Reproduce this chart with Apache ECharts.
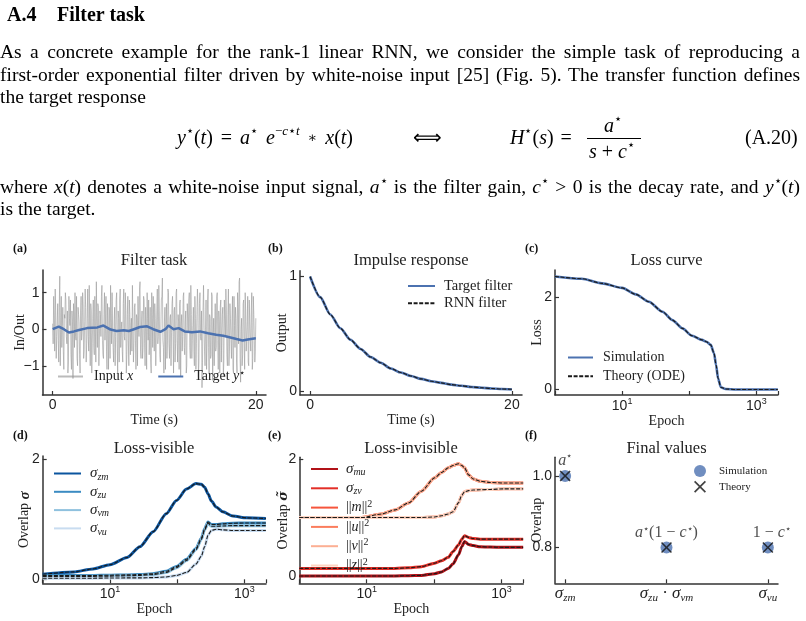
<!DOCTYPE html>
<html>
<head>
<meta charset="utf-8">
<script src="https://cdn.jsdelivr.net/npm/echarts@6/dist/echarts.min.js"></script>
<style>
html, body { margin: 0; padding: 0; background: #fff; }
#page { position: relative; width: 806px; height: 621px; overflow: hidden; font-family: 'Liberation Serif', serif; color: #000; }
#chart { position: absolute; left: 0; top: 0; width: 806px; height: 621px; }
.t { position: absolute; white-space: nowrap; font-size: 20px; line-height: 22px; }
.ln { position: absolute; left: 0; width: 800px; font-size: 19.5px; line-height: 22px; white-space: nowrap; }
.j { text-align: justify; text-align-last: justify; }
sup { font-size: 13px; line-height: 0; position: relative; top: -1px; }
.fr { position: absolute; border-top: 1px solid #000; }
.ast { font-family: 'DejaVu Serif', serif; font-size: 14px; position: relative; top: -2px; }
</style>
</head>
<body>
<div id="page">
	<div id="chart"></div>
	<div class="t" style="left:7px;top:3px;font-weight:bold">A.4</div>
	<div class="t" style="left:57px;top:3px;font-weight:bold">Filter task</div>
	<div class="ln j" style="top:41px">As a concrete example for the rank-1 linear RNN, we consider the simple task of reproducing a</div>
	<div class="ln j" style="top:64px">first-order exponential filter driven by white-noise input [25] (Fig. 5). The transfer function defines</div>
	<div class="ln" style="top:86px">the target response</div>
	<div class="t" style="left:177px;top:126px;word-spacing:3px"><i>y</i><sup>⋆</sup>(<i>t</i>) = <i>a</i><sup>⋆</sup> <i>e</i><sup>−<i>c</i>⋆<i>t</i></sup> <span class="ast">∗</span> <i>x</i>(<i>t</i>)</div>
	<div class="t" style="left:413px;top:126px">⟺</div>
	<div class="t" style="left:510px;top:126px;word-spacing:2px"><i>H</i><sup>⋆</sup>(<i>s</i>) =</div>
	<div class="t" style="left:604px;top:114px"><i>a</i><sup>⋆</sup></div>
	<div class="fr" style="left:587px;top:138px;width:54px"></div>
	<div class="t" style="left:589px;top:140px"><i>s</i> + <i>c</i><sup>⋆</sup></div>
	<div class="t" style="left:745px;top:126px">(A.20)</div>
	<div class="ln j" style="top:176px">where <i>x</i>(<i>t</i>) denotes a white-noise input signal, <i>a</i><sup>⋆</sup> is the filter gain, <i>c</i><sup>⋆</sup> &gt; 0 is the decay rate, and <i>y</i><sup>⋆</sup>(<i>t</i>)</div>
	<div class="ln" style="top:198px">is the target.</div>
</div>
<script>
	// ---- panel (a): filter task, input sampled every 0.05 s ----
	const tStep = 0.05;
	const inputX = [
		0.15, -0.4, 0.9, 0.3, -0.6, 1.1, 0.5, -0.8, -0.2, 0.2, 0.7, -0.3, -0.9, 0.6, 1.45, -1.0, 0.2, 0.9, -0.5, 0.1,
		0.6, -0.6, -1.1, 0.4, 0.3, 1.0, 0.8, -0.2, -0.4, 0.5, -1.2, -0.9, 0.9, 0.3, 0.1, 0.8, -0.7, -1.1, 0.5, 0.2,
		-1.35, 0.7, 0.4, -0.5, 1.0, -0.2, -0.3, 0.9, -0.8, -1.0, 0.6, 0.4, 0.2, -0.7, -1.2, 0.5, 0.9, -0.3, -0.1, 1.0,
		0.7, -0.8, -0.6, 0.2, 1.1, 0.6, -0.9, -0.4, 0.3, 1.1, -0.2, -0.6, 1.2, 0.0, -1.0, 0.7, 0.5, -1.2, -0.4, 0.3,
		0.8, -0.5, -0.7, 0.9, 0.1, -0.9, 1.3, 0.2, -0.5, 0.7, 0.6, -1.0, -1.0, 0.5, 0.4, -0.2, 0.9, 1.2, -0.3, -0.7,
		-0.8, 0.4, 1.0, -0.3, 0.2, 0.9, -0.6, -1.1, 0.7, 0.1, -1.1, 0.6, 0.5, -0.8, 1.2, 0.3, -0.4, 1.0, 0.0, -0.5,
		-0.9, 0.2, 0.6, -1.0, -0.2, 0.8, 1.0, -0.4, -1.2, 0.5, 0.3, -0.9, 0.8, 1.1, -0.5, 0.0, 0.2, -0.6, -0.9, 0.7,
		1.1, -0.2, -0.3, 1.0, 0.5, -1.2, -0.7, 0.4, 0.9, -0.3, -1.0, 0.8, 0.4, -0.7, 0.1, 0.3, -0.6, 1.2, 1.2, -0.9,
		-0.4, 0.6, 0.7, -0.3, -1.1, 0.4, 0.3, -1.0, 0.9, 0.1, -0.2, 1.1, 1.3, -0.6, -0.8, 0.2, 0.5, -0.8, -0.5, 0.9,
		0.8, -0.4, -1.0, 0.6, 0.2, -1.1, 1.0, 0.3, -0.3, 0.8, -0.7, -0.2, 0.6, -0.9, -1.2, 1.0, 0.4, -0.5, 0.9, 0.2,
		-0.6, 0.7, 0.3, -1.0, -1.0, 0.5, 1.1, -0.4, -0.2, 1.2, 0.5, -0.7, -0.9, 0.0, 0.8, 0.9, 1.4, -0.3, -0.5, -1.2,
		0.2, 0.6, -1.1, 0.2, 0.7, -0.8, -0.3, 1.1, 1.0, -0.4, -0.8, 0.3, 0.4, -1.0, -0.1, 0.7, 0.9, -0.2, -1.2, 0.5,
		0.6, -0.9, -0.4, 1.0, 1.1, -0.3, -0.9, 0.4, 0.2, -1.1, 0.7, 0.8, -1.3, 0.1, 0.4, -0.6, -0.2, 0.9, 1.0, -0.5,
		-0.7, 0.2, 0.5, -1.2, -1.0, 0.7, 0.3, -0.1, 0.8, 1.0, -0.5, -0.8, 1.2, 0.4, -0.8, -0.3, 0.1, 0.6, -0.6, -1.0,
		0.9, 0.3, -1.1, -0.4, 0.4, 1.1, 0.6, -1.3, -0.9, 0.7, 1.0, -0.2, -0.3, 0.5, -1.6, -0.9, 0.5, 1.2, 0.2, -0.6,
		-1.0, 0.0, 0.8, -1.1, -0.4, 0.8, 1.1, -0.5, -1.2, 0.4, 0.3, -0.8, -0.7, 1.0, 0.9, -1.4, -0.2, 0.3, -1.0, -0.2,
		0.7, -0.6, -0.5, 0.9, 1.0, -0.3, -1.1, 0.5, 0.2, -1.2, 0.6, 0.8, -0.9, -0.1, 0.4, 0.6, -1.3, -0.9, 0.8, 0.2,
		-0.2, 1.1, 0.5, -0.7, -1.0, 0.4, 1.1, -1.0, -0.6, 0.7, 0.3, -0.3, -0.8, 0.2, 0.9, -1.1, -1.2, 0.9, 0.1, -0.5,
		0.6, 0.3, -0.9, -1.2, 1.0, 0.6, -0.4, 1.3, 1.4, -0.8, -1.45, 0.0, 0.3, -1.0, -0.7, 0.7, 0.8, -0.4, -1.1, 1.0,
		0.5, -0.6, -0.3, 0.2, 0.9, -0.9, -1.0, 0.8, 0.2, -0.3, -0.6, 0.5, 1.0, -1.1, -0.8, 0.9, 0.4, -0.2, -0.9, -0.6, 0.3
	];
	const targetT = [0, 0.6, 1.1, 1.6, 2.1, 2.6, 3.4, 4.4, 5.0, 5.7, 6.3, 7.0, 7.5, 8.0, 8.6, 9.3, 9.9, 10.6, 11.1, 11.4,
		11.9, 12.4, 13.0, 13.7, 14.5, 15.3, 16.1, 16.8, 17.4, 18.1, 18.7, 19.2, 20];
	const targetY = [0.0, 0.07, 0.0, -0.09, -0.06, -0.02, 0.03, 0.05, 0.1, -0.01, -0.05, -0.03, -0.05, 0.0, 0.06, 0.08, 0.0, -0.07, 0.0, 0.1,
		0.0, 0.03, -0.06, -0.08, -0.06, -0.11, -0.15, -0.18, -0.22, -0.27, -0.31, -0.28, -0.25];

	// ---- panel (b): impulse response ----
	const impT = [0, 1, 2, 3, 4, 5, 6, 7, 8, 9, 10, 11, 12, 13, 14, 15, 16, 17, 18, 19, 20];
	const impTarget = [1.00, 0.82, 0.67, 0.55, 0.45, 0.37, 0.30, 0.25, 0.20, 0.165, 0.135, 0.11, 0.09, 0.075, 0.06, 0.05, 0.04, 0.033, 0.027, 0.022, 0.018];
	const impRnn = [1.00, 0.82, 0.67, 0.55, 0.45, 0.37, 0.30, 0.25, 0.20, 0.165, 0.135, 0.11, 0.09, 0.075, 0.06, 0.05, 0.04, 0.033, 0.027, 0.022, 0.02];

	// ---- panel (c): loss curve ----
	const lossEpoch = [1, 2.5, 5, 10, 16, 25, 40, 56, 79, 110, 155, 180, 209, 234, 251, 269, 295, 347, 500, 1000, 2090];
	const lossSim = [2.46, 2.41, 2.31, 2.21, 2.07, 1.91, 1.69, 1.51, 1.33, 1.17, 1.08, 1.04, 0.97, 0.79, 0.53, 0.24, 0.05, 0.01, 0.0, 0.0, 0.0];
	const lossOde = [2.46, 2.41, 2.31, 2.21, 2.07, 1.91, 1.69, 1.51, 1.33, 1.17, 1.08, 1.04, 0.97, 0.79, 0.53, 0.24, 0.05, 0.01, 0.0, 0.0, 0.0];

	// ---- panel (d): loss-visible overlaps ----
	const epochD = [1, 2.9, 5.6, 10, 18, 28, 44, 69, 98, 138, 191, 229, 257, 288, 324, 380, 479, 676, 1070, 2090];
	const sigZm = [0.08, 0.12, 0.17, 0.24, 0.36, 0.54, 0.79, 1.09, 1.31, 1.50, 1.59, 1.58, 1.53, 1.42, 1.30, 1.20, 1.12, 1.05, 1.02, 1.01];
	const sigZu = [0.06, 0.06, 0.06, 0.065, 0.07, 0.075, 0.09, 0.13, 0.21, 0.33, 0.51, 0.68, 0.84, 0.95, 0.91, 0.91, 0.92, 0.93, 0.935, 0.935];
	const sigVm = [0.045, 0.045, 0.046, 0.05, 0.055, 0.06, 0.075, 0.11, 0.19, 0.31, 0.49, 0.66, 0.82, 0.93, 0.88, 0.88, 0.885, 0.89, 0.89, 0.89];
	const sigVu = [0.015, 0.015, 0.015, 0.018, 0.02, 0.02, 0.025, 0.035, 0.06, 0.11, 0.25, 0.38, 0.54, 0.73, 0.81, 0.83, 0.82, 0.81, 0.81, 0.81];

	// ---- panel (e): loss-invisible overlaps ----
	const epochE = [1, 2.9, 8.5, 16.6, 26.3, 41.7, 64.6, 102, 129, 162, 191, 229, 257, 282, 324, 380, 479, 676, 1070, 2090];
	const sigMu = [0, 0, 0, 0, 0, 0.005, 0.01, 0.04, 0.07, 0.13, 0.21, 0.36, 0.50, 0.59, 0.54, 0.52, 0.50, 0.495, 0.49, 0.49];
	const sigZv = [0.13, 0.13, 0.13, 0.13, 0.13, 0.14, 0.16, 0.22, 0.26, 0.32, 0.42, 0.53, 0.63, 0.69, 0.66, 0.64, 0.63, 0.63, 0.63, 0.63];
	const normM = [1.0, 1.0, 1.0, 1.06, 1.13, 1.25, 1.45, 1.68, 1.77, 1.85, 1.89, 1.92, 1.89, 1.85, 1.73, 1.66, 1.62, 1.60, 1.59, 1.59];
	const normU = [1.0, 1.0, 1.0, 1.0, 1.0, 1.0, 1.0, 1.01, 1.03, 1.06, 1.10, 1.25, 1.38, 1.44, 1.46, 1.47, 1.475, 1.48, 1.49, 1.49];
	const normV = [1.0, 1.0, 1.0, 1.06, 1.13, 1.25, 1.45, 1.68, 1.77, 1.85, 1.89, 1.92, 1.89, 1.85, 1.73, 1.66, 1.62, 1.60, 1.59, 1.59];
	const normZ = [1.0, 1.0, 1.0, 1.0, 1.0, 1.0, 1.0, 1.01, 1.03, 1.06, 1.10, 1.25, 1.38, 1.44, 1.46, 1.47, 1.475, 1.48, 1.49, 1.49];

	// ---- panel (f): final values ----
	const finalCats = ['{g|σ}{s|zm}', '{g|σ}{s|zu}{n| · }{g|σ}{s|vm}', '{g|σ}{s|vu}'];
	const finalSim = [1.0, 0.8, 0.8];
	const finalTheory = [1.0, 0.8, 0.8];
	const finalNotes = ['{m|a}{u|⋆}', '{m|a}{u|⋆}{n|(1 − }{m|c}{u|⋆}{n|)}', '{n|1 − }{m|c}{u|⋆}'];

	const panelTitles = ['Filter task', 'Impulse response', 'Loss curve', 'Loss-visible', 'Loss-invisible', 'Final values'];
	const panelTags = ['(a)', '(b)', '(c)', '(d)', '(e)', '(f)'];

	const serif = 'Liberation Serif';
	const sans = 'Liberation Sans';
	const ink = '#222';
	const axisCol = '#333';
	const blue = '#4c72b0';

	const legendText = {
		a_in: 'Input {i|x}', a_tg: 'Target {i|y}{u|⋆}',
		b_tgt: 'Target filter', b_rnn: 'RNN filter',
		c_sim: 'Simulation', c_th: 'Theory (ODE)',
		d_zm: '{g|σ}{s|zm}', d_zu: '{g|σ}{s|zu}', d_vm: '{g|σ}{s|vm}', d_vu: '{g|σ}{s|vu}',
		e_mu: '{g|σ}{s|mu}', e_zv: '{g|σ}{s|zv}',
		e_m: '{n|||}{i|m}{n|||}{u|2}', e_u: '{n|||}{i|u}{n|||}{u|2}',
		e_v: '{n|||}{i|v}{n|||}{u|2}', e_z: '{n|||}{i|z}{n|||}{u|2}',
		f_sim: 'Simulation', f_th: 'Theory'
	};

	const rich = {
		i: { fontFamily: serif, fontStyle: 'italic', fontSize: 14, lineHeight: 17, color: ink },
		g: { fontFamily: serif, fontStyle: 'italic', fontSize: 15, lineHeight: 17, color: ink },
		s: { fontFamily: serif, fontStyle: 'italic', fontSize: 10, lineHeight: 10, verticalAlign: 'bottom', color: ink },
		u: { fontFamily: serif, fontSize: 10, lineHeight: 10, verticalAlign: 'top', color: ink },
		n: { fontFamily: serif, fontSize: 14, lineHeight: 17, color: ink }
	};

	function pairs(xs, ys) {
		return xs.map((x, i) => [x, ys[i]]);
	}

	function solid(name, idx, data, color, w) {
		return {
			name, type: 'line', xAxisIndex: idx, yAxisIndex: idx, data,
			symbol: 'none', smooth: 0.25, smoothMonotone: 'x',
			lineStyle: { color, width: w }, itemStyle: { color }, z: 2, silent: true
		};
	}

	function dashed(name, idx, data) {
		return {
			name, type: 'line', xAxisIndex: idx, yAxisIndex: idx, data,
			symbol: 'none', smooth: 0.25, smoothMonotone: 'x',
			lineStyle: { color: '#1a1a1a', width: 1.1, type: [4, 1.6] }, itemStyle: { color: '#1a1a1a' }, z: 3, silent: true
		};
	}

	const baseLine = { show: true, onZero: false, lineStyle: { color: axisCol, width: 1.5 } };

	function valAxis(i, min, max, ticks, name, gap, fmt, extra) {
		return Object.assign({
			type: 'value', gridIndex: i, min, max, name, nameLocation: 'middle', nameGap: gap,
			nameTextStyle: { fontFamily: serif, fontSize: 14, color: ink,
				rich: {
					bs: { fontFamily: serif, fontSize: 15, fontWeight: 'bold', fontStyle: 'italic', color: ink },
					bt: { fontFamily: 'DejaVu Serif', fontSize: 13, fontWeight: 'bold', fontStyle: 'italic', color: ink }
				} },
			axisLine: baseLine,
			axisTick: { show: true, inside: true, length: 4, customValues: ticks, lineStyle: { color: axisCol, width: 1.2 } },
			axisLabel: { customValues: ticks, fontFamily: sans, fontSize: 14, color: ink, margin: 3, formatter: fmt },
			splitLine: { show: false }
		}, extra || {});
	}

	function logAxis(i, gap) {
		return {
			type: 'log', logBase: 10, gridIndex: i, min: 1, max: 2100, name: 'Epoch', nameLocation: 'middle', nameGap: gap,
			nameTextStyle: { fontFamily: serif, fontSize: 14, color: ink },
			axisLine: baseLine,
			axisTick: { show: true, inside: true, length: 4, lineStyle: { color: axisCol, width: 1.2 } },
			axisLabel: {
				margin: 2,
				formatter: v => {
					const l = Math.log10(v);
					const p = Math.round(l);
					if (Math.abs(l - p) > 1e-6) return '';
					return (p === 1 || p === 3) ? '{b|10}{e|' + p + '}' : '';
				},
				rich: {
					b: { fontFamily: sans, fontSize: 14, lineHeight: 18, color: ink },
					e: { fontFamily: sans, fontSize: 9, lineHeight: 9, verticalAlign: 'top', color: ink }
				}
			},
			splitLine: { show: false }
		};
	}

	const signFmt = v => (v < 0 ? '−' + Math.abs(v) : String(v));
	const yName = { nameMoveOverlap: false };

	const grid = [
		{ left: 42.5, top: 270, width: 223.5, height: 125 },
		{ left: 300, top: 270.7, width: 222, height: 124.3 },
		{ left: 555, top: 270, width: 223, height: 125 },
		{ left: 42.7, top: 456, width: 223.3, height: 127.3 },
		{ left: 299.3, top: 457.3, width: 224, height: 126 },
		{ left: 555, top: 457.3, width: 223, height: 126 }
	];

	const xAxis = [
		valAxis(0, -1, 21, [0, 20], 'Time (s)', 13, signFmt),
		valAxis(1, -1, 21, [0, 20], 'Time (s)', 13, signFmt),
		logAxis(2, 17),
		logAxis(3, 17.5),
		logAxis(4, 17.5),
		valAxis(5, -0.1, 2.1, [0, 1, 2], '', 0, v => finalCats[Math.round(v)], {
			axisLabel: {
				customValues: [0, 1, 2], margin: 0, formatter: v => finalCats[Math.round(v)],
				rich: {
					g: { fontFamily: serif, fontStyle: 'italic', fontSize: 17, lineHeight: 20, color: ink },
					s: { fontFamily: serif, fontStyle: 'italic', fontSize: 11, lineHeight: 11, verticalAlign: 'bottom', color: ink },
					n: { fontFamily: serif, fontSize: 17, lineHeight: 20, color: ink }
				}
			}
		})
	];

	const yAxis = [
		valAxis(0, -1.8, 1.62, [-1, 0, 1], 'In/Out', 15.5, signFmt, yName),
		valAxis(1, -0.03, 1.05, [0, 1], 'Output', 11, signFmt, yName),
		valAxis(2, -0.12, 2.6, [0, 2], 'Loss', 11, signFmt, yName),
		valAxis(3, -0.07, 2.05, [0, 2], 'Overlap {bs|σ}', 10.5, signFmt, yName),
		valAxis(4, -0.125, 2.03, [0, 2], 'Overlap {bt|σ̃}', 9, signFmt, yName),
		valAxis(5, 0.7, 1.052, [0.8, 1.0], 'Overlap', 11, v => v.toFixed(1), yName)
	];

	const titleXs = [154, 411, 666.5];
	const tagXs = [13, 268, 525];
	const title = [];
	panelTitles.forEach((txt, i) => {
		const row = Math.floor(i / 3), col = i % 3;
		title.push({
			text: txt, left: titleXs[col], top: row ? 440 : 252, textAlign: 'center', padding: 0,
			textStyle: { fontFamily: serif, fontSize: 16.5, fontWeight: 'normal', color: ink }
		});
		title.push({
			text: panelTags[i], left: tagXs[col], top: row ? 430 : 243, padding: 0,
			textStyle: { fontFamily: serif, fontSize: 12, fontWeight: 'bold', color: '#111' }
		});
	});

	function legendBox(names, pos, extra) {
		return Object.assign({
			data: names, orient: 'vertical', selectedMode: false,
			itemWidth: 27, itemHeight: 14, padding: 0,
			formatter: n => legendText[n],
			itemStyle: { opacity: 0 },
			textStyle: { fontFamily: serif, fontSize: 14, lineHeight: 17, color: ink, padding: [0, 0, 0, 4], rich }
		}, pos, extra || {});
	}

	const legend = [
		legendBox(['a_in', 'a_tg'], { left: 57, top: 368 }, { orient: 'horizontal', itemWidth: 25, itemGap: 24, textStyle: { fontFamily: serif, fontSize: 14, lineHeight: 17, color: ink, padding: [0, 0, 0, 6], rich } }),
		legendBox(['b_tgt', 'b_rnn'], { left: 407, top: 277.5 }, { itemGap: 0.3, textStyle: { fontFamily: serif, fontSize: 14.5, lineHeight: 17, color: ink, padding: [0, 0, 0, 4], rich } }),
		legendBox(['c_sim', 'c_th'], { left: 567, top: 349 }, { itemWidth: 25, itemGap: 1.7, textStyle: { fontFamily: serif, fontSize: 14, lineHeight: 17, color: ink, padding: [0, 0, 0, 5], rich } }),
		legendBox(['d_zm', 'd_zu', 'd_vm', 'd_vu'], { left: 53, top: 465 }, { itemGap: 1.3 }),
		legendBox(['e_mu', 'e_zv', 'e_m', 'e_u', 'e_v', 'e_z'], { left: 310, top: 460.5 }, { itemGap: 2.3, textStyle: { fontFamily: serif, fontSize: 14, lineHeight: 17, color: ink, padding: [0, 0, 0, 3], rich } }),
		{
			data: ['f_sim', 'f_th'], orient: 'vertical', selectedMode: false, left: 694, top: 465,
			itemWidth: 12, itemHeight: 12, itemGap: 3.7, padding: 0,
			formatter: n => legendText[n],
			textStyle: { fontFamily: serif, fontSize: 11, color: ink, padding: [0, 0, 0, 8] }
		}
	];

	const crossPath = 'path://M0,1 L1,0 L5,4 L9,0 L10,1 L6,5 L10,9 L9,10 L5,6 L1,10 L0,9 L4,5 Z';

	const series = [
		{
			name: 'a_in', type: 'line', xAxisIndex: 0, yAxisIndex: 0, symbol: 'none', silent: true,
			data: inputX.map((v, i) => [i * tStep, v]),
			lineStyle: { color: 'rgba(150,150,150,0.65)', width: 0.9 }, itemStyle: { color: '#999' }, z: 1
		},
		{
			name: 'a_tg', type: 'line', xAxisIndex: 0, yAxisIndex: 0, symbol: 'none', silent: true,
			data: pairs(targetT, targetY),
			lineStyle: { color: blue, width: 2.5 }, itemStyle: { color: blue }, z: 2
		},
		solid('b_tgt', 1, pairs(impT, impTarget), blue, 2.6),
		dashed('b_rnn', 1, pairs(impT, impRnn)),
		solid('c_sim', 2, pairs(lossEpoch, lossSim), blue, 2.6),
		dashed('c_th', 2, pairs(lossEpoch, lossOde)),
		solid('d_zm', 3, pairs(epochD, sigZm), '#0b559f', 3),
		solid('d_zu', 3, pairs(epochD, sigZu), '#3b8bc2', 3),
		solid('d_vm', 3, pairs(epochD, sigVm), '#8fc1de', 3),
		solid('d_vu', 3, pairs(epochD, sigVu), '#c8dcf0', 3),
		dashed('d_zm_th', 3, pairs(epochD, sigZm)),
		dashed('d_zu_th', 3, pairs(epochD, sigZu)),
		dashed('d_vm_th', 3, pairs(epochD, sigVm)),
		dashed('d_vu_th', 3, pairs(epochD, sigVu)),
		solid('e_mu', 4, pairs(epochE, sigMu), '#b11218', 3),
		solid('e_zv', 4, pairs(epochE, sigZv), '#e32f27', 3),
		solid('e_m', 4, pairs(epochE, normM), '#f6553c', 3),
		solid('e_u', 4, pairs(epochE, normU), '#fb7d5d', 3),
		solid('e_v', 4, pairs(epochE, normV), '#fcaf93', 3),
		solid('e_z', 4, pairs(epochE, normZ), '#fdd4c2', 3),
		dashed('e_mu_th', 4, pairs(epochE, sigMu)),
		dashed('e_zv_th', 4, pairs(epochE, sigZv)),
		dashed('e_m_th', 4, pairs(epochE, normM)),
		dashed('e_u_th', 4, pairs(epochE, normU)),
		{
			name: 'f_sim', type: 'scatter', xAxisIndex: 5, yAxisIndex: 5, silent: true,
			symbol: 'circle', symbolSize: 12, itemStyle: { color: blue }, z: 2,
			data: finalSim.map((v, i) => [i, v])
		},
		{
			name: 'f_th', type: 'scatter', xAxisIndex: 5, yAxisIndex: 5, silent: true,
			symbol: crossPath, symbolSize: 11, itemStyle: { color: '#111' }, z: 3,
			data: finalTheory.map((v, i) => ({ value: [i, v], label: { offset: [i === 2 ? 4 : 0, i === 0 ? 3 : 4] } })),
			label: {
				show: true, position: 'top', distance: 4,
				formatter: p => finalNotes[p.dataIndex],
				rich: {
					m: { fontFamily: serif, fontStyle: 'italic', fontSize: 16, lineHeight: 18, color: ink },
					n: { fontFamily: serif, fontSize: 16, lineHeight: 18, color: ink },
					u: { fontFamily: serif, fontSize: 10, lineHeight: 10, verticalAlign: 'top', color: ink }
				}
			}
		}
	];

	const myChart = echarts.init(document.getElementById('chart'), null, { renderer: 'canvas' });
	myChart.setOption({
		animation: false,
		title, grid, xAxis, yAxis, legend, series
	});
</script>
</body>
</html>
